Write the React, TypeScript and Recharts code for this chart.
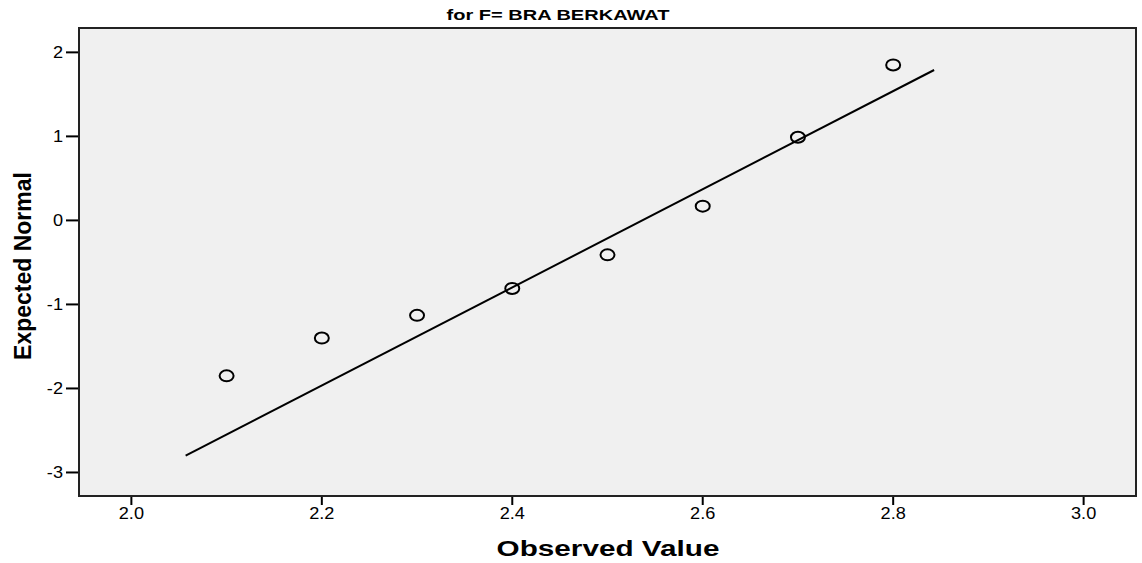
import {
  ComposedChart,
  Scatter,
  XAxis,
  YAxis,
  CartesianGrid,
} from "recharts";

const observed = [2.1, 2.2, 2.3, 2.4, 2.5, 2.6, 2.7, 2.8];
const expected = [-1.85, -1.4, -1.13, -0.81, -0.41, 0.17, 0.99, 1.85];

// Reference line end points
const lineX = [2.057, 2.843];
const lineY = [-2.8, 1.79];

const xTicks = [2.0, 2.2, 2.4, 2.6, 2.8, 3.0];
const yTicks = [-3, -2, -1, 0, 1, 2];

const points = observed.map((x, i) => ({ x, y: expected[i] }));
const fitLine = lineX.map((x, i) => ({ x, y: lineY[i] }));

const FONT = '"Liberation Sans", Arial, sans-serif';

function OpenCircle(props: any) {
  const { cx, cy } = props;
  if (cx == null || cy == null) return null;
  return <ellipse cx={cx} cy={cy} rx={7} ry={5.5} fill="none" stroke="#000" strokeWidth={2} />;
}

function NoDot() {
  return null;
}

// tick labels in the original are a little wider than plain Arial
function XTick(props: any) {
  const { x, y, payload } = props;
  return (
    <text
      transform={`translate(${x},${y + 14}) scale(1.1,1)`}
      textAnchor="middle"
      fontSize={16.5}
      fontFamily={FONT}
      fill="#000"
    >
      {payload.value.toFixed(1)}
    </text>
  );
}

function YTick(props: any) {
  const { x, y, payload } = props;
  return (
    <text
      transform={`translate(${x},${y + 6}) scale(1.1,1)`}
      textAnchor="end"
      fontSize={16.5}
      fontFamily={FONT}
      fill="#000"
    >
      {payload.value}
    </text>
  );
}

export default function App() {
  return (
    <div
      style={{
        position: "absolute",
        left: 0,
        top: 0,
        width: 1142,
        height: 563,
        background: "#fff",
        fontFamily: FONT,
        overflow: "hidden",
      }}
    >
      <ComposedChart
        width={1142}
        height={563}
        margin={{ top: 28, right: 6, bottom: 0, left: 0 }}
      >
        <CartesianGrid
          horizontal={false}
          vertical={false}
          fill="#f0f0f0"
          stroke="none"
        />
        <XAxis
          type="number"
          dataKey="x"
          domain={[1.945, 3.055]}
          ticks={xTicks}
          tick={<XTick />}
          tickLine={{ stroke: "#000", strokeWidth: 2 }}
          tickSize={9}
          tickMargin={0}
          axisLine={false}
          allowDataOverflow
          height={67}
        />
        <YAxis
          type="number"
          dataKey="y"
          domain={[-3.28, 2.29]}
          ticks={yTicks}
          tick={<YTick />}
          tickLine={{ stroke: "#000", strokeWidth: 2 }}
          tickSize={13}
          tickMargin={3}
          axisLine={false}
          allowDataOverflow
          width={79}
        />
        <Scatter
          data={fitLine}
          line={{ stroke: "#000", strokeWidth: 2 }}
          shape={<NoDot />}
          isAnimationActive={false}
        />
        <Scatter data={points} shape={<OpenCircle />} isAnimationActive={false} />
      </ComposedChart>

      {/* plot frame */}
      <div
        style={{
          position: "absolute",
          boxSizing: "border-box",
          left: 78,
          top: 27,
          width: 1059,
          height: 470,
          border: "2px solid #222",
          pointerEvents: "none",
        }}
      />

      <div
        style={{
          position: "absolute",
          left: 358,
          width: 400,
          top: 7,
          lineHeight: "16px",
          textAlign: "center",
          fontWeight: "bold",
          fontSize: 14,
          transform: "scaleX(1.43)",
          whiteSpace: "nowrap",
        }}
      >
        for F= BRA BERKAWAT
      </div>

      <div
        style={{
          position: "absolute",
          left: 408,
          width: 400,
          top: 537,
          lineHeight: "24px",
          textAlign: "center",
          fontWeight: "bold",
          fontSize: 22,
          transform: "scaleX(1.35)",
          whiteSpace: "nowrap",
        }}
      >
        Observed Value
      </div>

      <div
        style={{
          position: "absolute",
          left: 23,
          top: 266,
          transform: "translate(-50%, -50%) rotate(-90deg)",
          whiteSpace: "nowrap",
          lineHeight: "26px",
          fontWeight: "bold",
          fontSize: 23,
        }}
      >
        Expected Normal
      </div>
    </div>
  );
}
